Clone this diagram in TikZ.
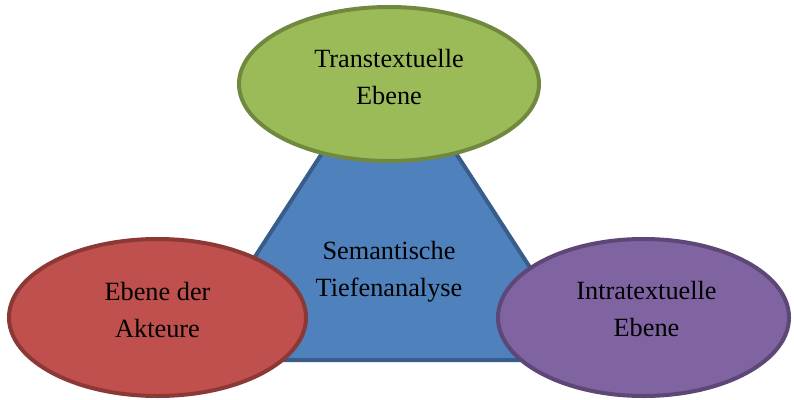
\documentclass[tikz,border=0pt]{standalone}
\usepackage{fontspec}
\setmainfont{Liberation Serif}
\usetikzlibrary{shapes.geometric}
\definecolor{bluefill}{HTML}{4F81BD}
\definecolor{blueline}{HTML}{385D8A}
\definecolor{greenfill}{HTML}{9BBB59}
\definecolor{greenline}{HTML}{71893F}
\definecolor{redfill}{HTML}{C0504D}
\definecolor{redline}{HTML}{8C3836}
\definecolor{purplefill}{HTML}{8064A2}
\definecolor{purpleline}{HTML}{5C4776}
\tikzset{
  levelshape/.style={ellipse, draw, line width=4pt, inner sep=0pt},
  caption/.style={align=center, text=black, inner sep=0pt,
    font=\fontsize{26.3}{37}\selectfont}
}
\begin{document}
\begin{tikzpicture}[x=1pt, y=-1pt]
  \useasboundingbox (0,0) rectangle (794,399);
  % central triangle
  \coordinate (apex) at (389,50);
  \coordinate (bl) at (188,360);
  \coordinate (br) at (590,360);
  \draw[fill=bluefill, draw=blueline, line width=4pt, line join=miter]
    (apex) -- (bl) -- (br) -- cycle;
  \node[caption] (core) at (389,271.5) {Semantische\\Tiefenanalyse};
  % three surrounding levels
  \node[levelshape, fill=greenfill, draw=greenline,
        minimum width=300pt, minimum height=154pt] (trans) at (389,84) {};
  \node[levelshape, fill=redfill, draw=redline,
        minimum width=297pt, minimum height=157pt] (akt) at (157.5,317.5) {};
  \node[levelshape, fill=purplefill, draw=purpleline,
        minimum width=291pt, minimum height=157pt] (intra) at (643.5,317.5) {};
  \node[caption] (transtxt) at ([yshift=7pt]trans.center) {Transtextuelle\\Ebene};
  \node[caption] (akttxt) at ([yshift=8pt]akt.center) {Ebene der\\Akteure};
  \node[caption] (intratxt) at ([xshift=3pt,yshift=9pt]intra.center) {Intratextuelle\\Ebene};
\end{tikzpicture}
\end{document}
